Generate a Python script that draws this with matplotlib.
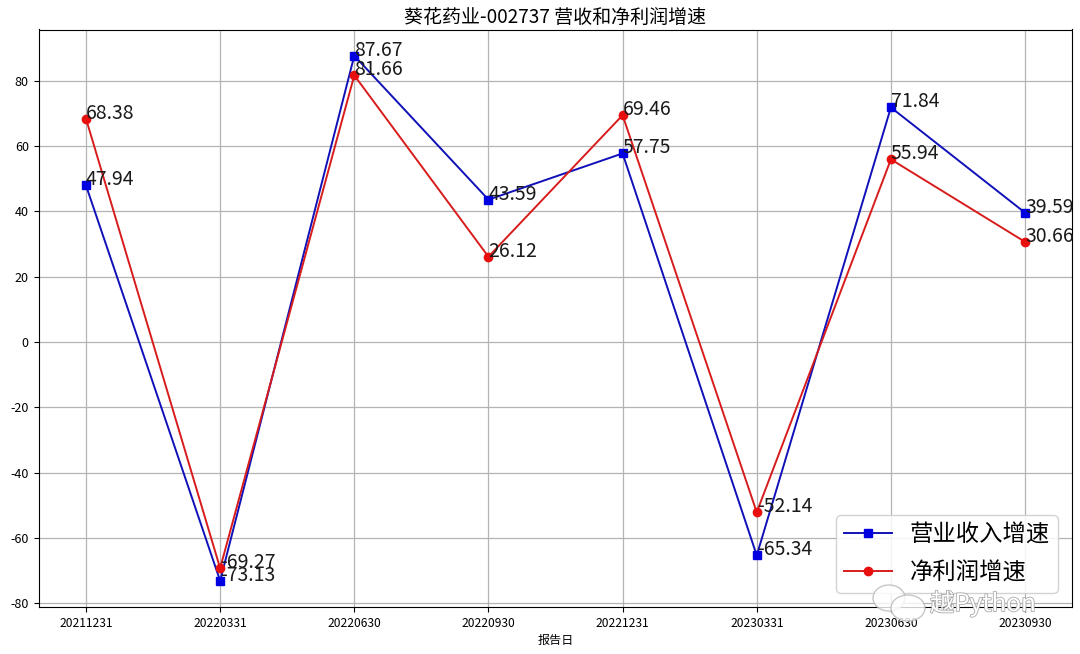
import matplotlib
matplotlib.use("Agg")
import matplotlib.pyplot as plt
from matplotlib.patches import Ellipse
import matplotlib.patheffects as pe

plt.rcParams['font.family'] = ['Noto Sans CJK SC', 'DejaVu Sans']
plt.rcParams['axes.unicode_minus'] = False

dates = ['20211231', '20220331', '20220630', '20220930', '20221231', '20230331', '20230630', '20230930']
revenue_growth = [47.94, -73.13, 87.67, 43.59, 57.75, -65.34, 71.84, 39.59]
profit_growth = [68.38, -69.27, 81.66, 26.12, 69.46, -52.14, 55.94, 30.66]

fig = plt.figure(figsize=(10.8, 6.54), dpi=100)
ax = fig.add_axes([38.5/1080, 1-606.5/654, (1072-38.5)/1080, (606.5-29.5)/654])
x = range(len(dates))
ax.plot(x, revenue_growth, color='#1010b8', marker='s', ms=5.5, mfc='#0000e0', mec='#0000e0', lw=1.4, label='营业收入增速')
ax.plot(x, profit_growth, color='#d81c1c', marker='o', ms=6, mfc='#e80f0f', mec='#e80f0f', lw=1.4, label='净利润增速')
for i, v in zip(x, revenue_growth):
    ax.text(i, v, f'{v}', fontsize=14, color='#1a1a1a')
for i, v in zip(x, profit_growth):
    ax.text(i, v, f'{v}', fontsize=14, color='#1a1a1a')
ax.set_xticks(list(x))
ax.set_xticklabels(dates, fontsize=8.7)
ax.tick_params(axis='y', labelsize=9)
ax.tick_params(axis='x', pad=4)
ax.set_xlim(-0.354, 7.35)
ax.set_ylim(-81, 95.7)
ax.set_yticks(range(-80, 81, 20))
ax.grid(True, color='#b4b4b4', lw=0.9)
ax.set_xlabel('报告日', fontsize=8.7, labelpad=3)
ax.set_title('葵花药业-002737 营收和净利润增速', fontsize=13.7, pad=4)
ax.legend(loc='lower right', fontsize=16.8, borderaxespad=0.6, framealpha=0.85,
          labelspacing=0.65, borderpad=0.35, handlelength=2.05, handletextpad=0.75)

# Watermark over the lower right corner
halo = [pe.withStroke(linewidth=1.2, foreground='#aaaaaa')]
fig.text(930/1080, 1-604/654, '越Python', fontsize=17.5, color='white', ha='left', va='center',
         path_effects=halo, zorder=10)
for cx, cy, w, h in [(889, 598, 32, 26), (908, 608, 34, 26)]:
    fig.add_artist(Ellipse((cx/1080, 1-cy/654), w/1080, h/654, transform=fig.transFigure,
                           facecolor='white', edgecolor='#b8b8b8', lw=1.0, alpha=0.8, zorder=9))
fig.savefig('out.png', dpi=100)
